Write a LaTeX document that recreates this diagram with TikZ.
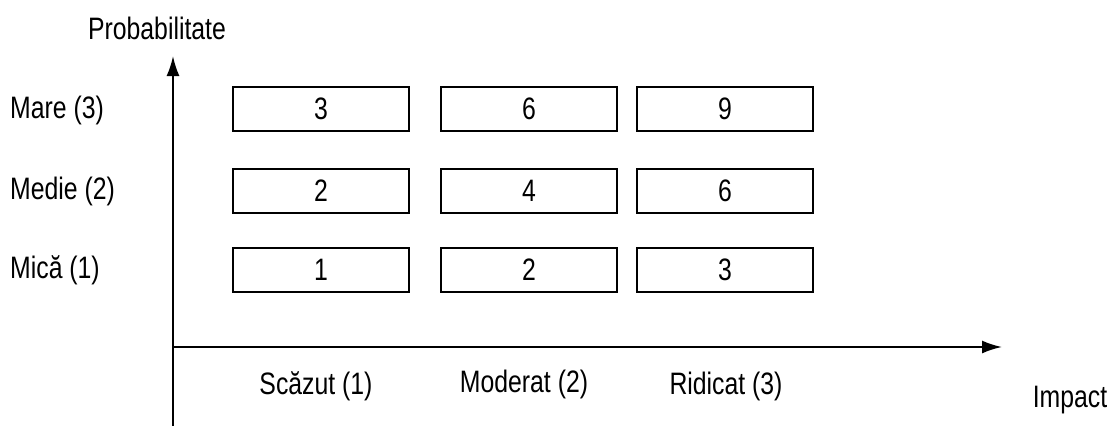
\documentclass[tikz,border=0pt]{standalone}
\usepackage{fontspec}
\setmainfont{Liberation Sans}[FakeStretch=0.8]
\usepackage{tikz}
\usetikzlibrary{arrows.meta, positioning}

\begin{document}
\begin{tikzpicture}[
  x=1pt, y=-1pt,
  cell/.style={
    draw=black, line width=2.8pt, fill=white,
    minimum width=176pt, minimum height=44pt,
    inner sep=0pt, font=\fontsize{31}{34}\selectfont
  },
  lbl/.style={font=\fontsize{31}{34}\selectfont, inner sep=0pt},
  axis/.style={line width=2pt, -{Latex[length=20pt, width=13pt]}}
]
  \useasboundingbox (0,0) rectangle (1112,426);

  % --- Axes ---
  \coordinate (O) at (173,347);
  \coordinate (ybot) at (173,426);
  \coordinate (ytop) at (173,56);
  \coordinate (xend) at (1002,347);
  \draw[axis] (ybot) -- (ytop);
  \draw[axis] (O) -- (xend);

  \node[lbl] (ylab) at (157,28) {Probabilitate};
  \node[lbl] (xlab) at (1070,400) {Impact};

  % --- Row labels ---
  \node[lbl, anchor=west] (r3) at (10,110) {Mare (3)};
  \node[lbl, anchor=west] (r2) at (10,191) {Medie (2)};
  \node[lbl, anchor=west] (r1) at (10,270) {Mică (1)};

  % --- Column labels ---
  \node[lbl] (c1) at (316,386) {Scăzut (1)};
  \node[lbl] (c2) at (524,384) {Moderat (2)};
  \node[lbl] (c3) at (726,386) {Ridicat (3)};

  % --- Cells ---
  \node[cell] (m31) at (321,109) {3};
  \node[cell] (m32) at (529,109) {6};
  \node[cell] (m33) at (725,109) {9};

  \node[cell] (m21) at (321,191) {2};
  \node[cell] (m22) at (529,191) {4};
  \node[cell] (m23) at (725,191) {6};

  \node[cell] (m11) at (321,270) {1};
  \node[cell] (m12) at (529,270) {2};
  \node[cell] (m13) at (725,270) {3};

\end{tikzpicture}
\end{document}
